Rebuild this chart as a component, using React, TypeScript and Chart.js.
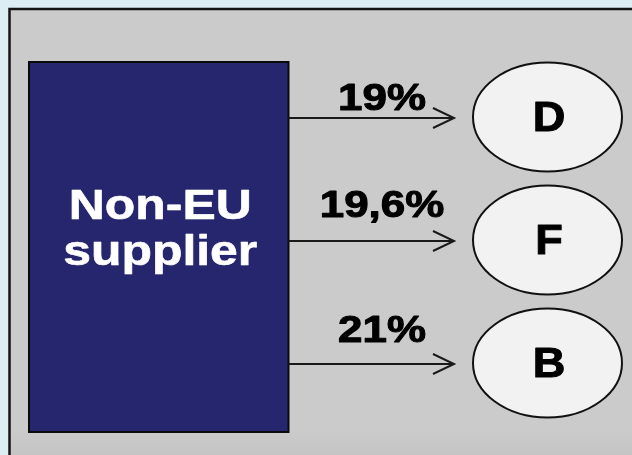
import React, { useEffect, useRef } from 'react';
import { Chart, registerables } from 'chart.js';

Chart.register(...registerables);

// ---- data ----
const SOURCE_LINES = ['Non-EU', 'supplier'];
const TARGETS = ['D', 'F', 'B'];
const SHARES = [19, 19.6, 21];

const fmtShare = (v: number) => v.toString().replace('.', ',') + '%';

// ---- layout / style constants ----
const W = 632;
const H = 455;
const NODE_X = 547.5;
const RX = 74.5;
const RY = 54.5;
const BOX = { left: 29, right: 288.5, top: 62, bottom: 432 };
const ARROW_TIP = 454;
const LABEL_X = 382;
const LABEL_DY = [-8, -24, -22];
const FONT = '"Liberation Sans", Arial, sans-serif';

function stretchedText(
  ctx: CanvasRenderingContext2D,
  text: string,
  x: number,
  y: number,
  sx: number,
  embolden = 0
) {
  ctx.save();
  ctx.translate(x, y);
  ctx.scale(sx, 1);
  ctx.fillText(text, 0, 0);
  if (embolden > 0) {
    ctx.lineWidth = embolden;
    ctx.strokeStyle = ctx.fillStyle as string;
    ctx.lineJoin = 'round';
    ctx.strokeText(text, 0, 0);
  }
  ctx.restore();
}

const flowPlugin = {
  id: 'flow',
  beforeDraw(chart: any) {
    const { ctx } = chart;
    ctx.save();
    ctx.fillStyle = '#dcedf3';
    ctx.fillRect(0, 0, W, H);
    const g = ctx.createLinearGradient(0, 430, 0, H);
    g.addColorStop(0, '#cbcbcb');
    g.addColorStop(1, '#c4c4c4');
    ctx.fillStyle = g;
    ctx.fillRect(9.5, 9, W, H);
    ctx.strokeStyle = '#151515';
    ctx.lineWidth = 2.5;
    ctx.beginPath();
    ctx.moveTo(9.5, H + 5);
    ctx.lineTo(9.5, 9);
    ctx.lineTo(W + 5, 9);
    ctx.stroke();
    ctx.restore();
  },
  afterDatasetsDraw(chart: any) {
    const { ctx } = chart;
    const meta = chart.getDatasetMeta(0);
    ctx.save();

    // source box
    ctx.fillStyle = '#26266e';
    ctx.fillRect(BOX.left, BOX.top, BOX.right - BOX.left, BOX.bottom - BOX.top);
    ctx.strokeStyle = '#0a0a0a';
    ctx.lineWidth = 2;
    ctx.strokeRect(BOX.left, BOX.top, BOX.right - BOX.left, BOX.bottom - BOX.top);

    ctx.fillStyle = '#ffffff';
    ctx.font = `bold 43px ${FONT}`;
    ctx.textAlign = 'center';
    ctx.textBaseline = 'alphabetic';
    const boxCx = (BOX.left + BOX.right) / 2 + 1.5;
    SOURCE_LINES.forEach((line, i) => {
      stretchedText(ctx, line, boxCx, 219 + i * 46, 1.16, 0.6);
    });

    meta.data.forEach((pt: any, i: number) => {
      const cx = pt.x;
      const cy = pt.y;
      // ellipse
      ctx.beginPath();
      ctx.ellipse(cx, cy, RX, RY, 0, 0, Math.PI * 2);
      ctx.fillStyle = '#f2f2f2';
      ctx.fill();
      ctx.strokeStyle = '#111111';
      ctx.lineWidth = 2;
      ctx.stroke();

      ctx.fillStyle = '#000000';
      ctx.font = `bold 43px ${FONT}`;
      ctx.textAlign = 'center';
      stretchedText(ctx, TARGETS[i], cx + 1.5, cy + 13.5, 1.05, 1);

      // arrow
      const ay = cy + 1;
      ctx.strokeStyle = '#1a1a1a';
      ctx.lineWidth = 2;
      ctx.beginPath();
      ctx.moveTo(BOX.right, ay);
      ctx.lineTo(ARROW_TIP, ay);
      ctx.stroke();
      ctx.beginPath();
      ctx.moveTo(ARROW_TIP - 21, ay - 10);
      ctx.lineTo(ARROW_TIP, ay);
      ctx.lineTo(ARROW_TIP - 21, ay + 10);
      ctx.stroke();

      // share label
      ctx.fillStyle = '#000000';
      ctx.font = `bold 36px ${FONT}`;
      stretchedText(ctx, fmtShare(SHARES[i]), LABEL_X, ay + LABEL_DY[i], 1.22, 1);
    });
    ctx.restore();
  },
};

export default function App() {
  const ref = useRef<HTMLCanvasElement>(null);
  useEffect(() => {
    document.body.style.margin = '0';
    const canvas = ref.current!;
    const chart = new Chart(canvas, {
      type: 'scatter',
      data: {
        datasets: [
          {
            data: TARGETS.map((t) => ({ x: NODE_X, y: t })) as any,
            pointRadius: 0,
            pointHoverRadius: 0,
            showLine: false,
          },
        ],
      },
      options: {
        animation: false,
        responsive: false,
        maintainAspectRatio: false,
        events: [],
        layout: { padding: { top: 55.5, bottom: 30.5, left: 0, right: 0 } },
        scales: {
          x: { type: 'linear', min: 0, max: W, display: false },
          y: { type: 'category', labels: TARGETS, offset: true, display: false },
        },
        plugins: { legend: { display: false }, tooltip: { enabled: false } },
      },
      plugins: [flowPlugin],
    });
    return () => chart.destroy();
  }, []);
  return <canvas ref={ref} width={W} height={H} style={{ display: 'block' }} />;
}
